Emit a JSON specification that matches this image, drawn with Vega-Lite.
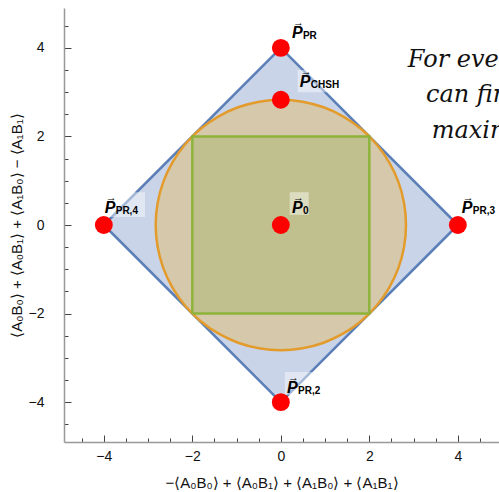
{
  "$schema": "https://vega.github.io/schema/vega-lite/v6.json",
  "width": 435,
  "height": 434,
  "autosize": "none",
  "padding": {"left": 64, "top": 8, "right": 0, "bottom": 50},
  "config": {"view": {"stroke": null}, "font": "Liberation Sans"},
  "datasets": {
    "diamond": [
      {"i": 0, "x": 0, "y": 4}, {"i": 1, "x": 4, "y": 0}, {"i": 2, "x": 0, "y": -4},
      {"i": 3, "x": -4, "y": 0}, {"i": 4, "x": 0, "y": 4}
    ],
    "circle": [
      {"i": 0, "x": 2.828, "y": 0}, {"i": 1, "x": 2.785, "y": 0.491}, {"i": 2, "x": 2.658, "y": 0.967},
      {"i": 3, "x": 2.449, "y": 1.414}, {"i": 4, "x": 2.167, "y": 1.818}, {"i": 5, "x": 1.818, "y": 2.167},
      {"i": 6, "x": 1.414, "y": 2.449}, {"i": 7, "x": 0.967, "y": 2.658}, {"i": 8, "x": 0.491, "y": 2.785},
      {"i": 9, "x": 0, "y": 2.828}, {"i": 10, "x": -0.491, "y": 2.785}, {"i": 11, "x": -0.967, "y": 2.658},
      {"i": 12, "x": -1.414, "y": 2.449}, {"i": 13, "x": -1.818, "y": 2.167}, {"i": 14, "x": -2.167, "y": 1.818},
      {"i": 15, "x": -2.449, "y": 1.414}, {"i": 16, "x": -2.658, "y": 0.967}, {"i": 17, "x": -2.785, "y": 0.491},
      {"i": 18, "x": -2.828, "y": 0}, {"i": 19, "x": -2.785, "y": -0.491}, {"i": 20, "x": -2.658, "y": -0.967},
      {"i": 21, "x": -2.449, "y": -1.414}, {"i": 22, "x": -2.167, "y": -1.818}, {"i": 23, "x": -1.818, "y": -2.167},
      {"i": 24, "x": -1.414, "y": -2.449}, {"i": 25, "x": -0.967, "y": -2.658}, {"i": 26, "x": -0.491, "y": -2.785},
      {"i": 27, "x": 0, "y": -2.828}, {"i": 28, "x": 0.491, "y": -2.785}, {"i": 29, "x": 0.967, "y": -2.658},
      {"i": 30, "x": 1.414, "y": -2.449}, {"i": 31, "x": 1.818, "y": -2.167}, {"i": 32, "x": 2.167, "y": -1.818},
      {"i": 33, "x": 2.449, "y": -1.414}, {"i": 34, "x": 2.658, "y": -0.967}, {"i": 35, "x": 2.785, "y": -0.491}
    ],
    "square": [
      {"i": 0, "x": -2, "y": -2}, {"i": 1, "x": 2, "y": -2}, {"i": 2, "x": 2, "y": 2},
      {"i": 3, "x": -2, "y": 2}, {"i": 4, "x": -2, "y": -2}
    ],
    "points": [
      {"name": "PR", "x": 0, "y": 4},
      {"name": "CHSH", "x": 0, "y": 2.828},
      {"name": "0", "x": 0, "y": 0},
      {"name": "PR,3", "x": 4, "y": 0},
      {"name": "PR,4", "x": -4, "y": 0},
      {"name": "PR,2", "x": 0, "y": -4}
    ],
    "boxes": [
      {"x": 0.38, "x2": 1.4, "y": 3.0, "y2": 3.5},
      {"x": 0.2, "x2": 0.63, "y": 0.23, "y2": 0.74},
      {"x": -4.02, "x2": -3.07, "y": 0.18, "y2": 0.74},
      {"x": 0.09, "x2": 0.99, "y": -3.84, "y2": -3.32}
    ],
    "labels": [
      {"sub": "PR", "x": 0.25, "y": 4.22},
      {"sub": "CHSH", "x": 0.43, "y": 3.12},
      {"sub": "0", "x": 0.25, "y": 0.27},
      {"sub": "PR,3", "x": 4.09, "y": 0.27},
      {"sub": "PR,4", "x": -3.98, "y": 0.27},
      {"sub": "PR,2", "x": 0.14, "y": -3.79}
    ],
    "note": [
      {"t": "For every point we", "x": 2.87, "y": 3.57},
      {"t": "can find a", "x": 3.28, "y": 2.78},
      {"t": "maximal", "x": 3.41, "y": 1.97}
    ]
  },
  "encoding": {
    "x": {
      "field": "x", "type": "quantitative",
      "scale": {"domain": [-4.9, 4.93], "nice": false, "zero": false},
      "axis": {
        "title": "−⟨A₀B₀⟩ + ⟨A₀B₁⟩ + ⟨A₁B₀⟩ + ⟨A₁B₁⟩",
        "values": [-4.5, -4, -3.5, -3, -2.5, -2, -1.5, -1, -0.5, 0, 0.5, 1, 1.5, 2, 2.5, 3, 3.5, 4, 4.5],
        "labelExpr": "datum.value % 2 === 0 ? format(datum.value, 'd') : ''",
        "tickSize": {"condition": {"test": "datum.value % 2 === 0", "value": -7}, "value": -4},
        "tickColor": "#444444", "tickWidth": 1,
        "domainColor": "#999999", "domainWidth": 1.5,
        "grid": false, "labelFontSize": 14, "labelColor": "#111111",
        "labelPadding": 14, "labelOverlap": false, "labelFlush": false,
        "titleFontSize": 15, "titleFontWeight": "normal", "titleColor": "#111111",
        "titlePadding": 9
      }
    },
    "y": {
      "field": "y", "type": "quantitative",
      "scale": {"domain": [-4.9, 4.9], "nice": false, "zero": false},
      "axis": {
        "title": "⟨A₀B₀⟩ + ⟨A₀B₁⟩ + ⟨A₁B₀⟩ − ⟨A₁B₁⟩",
        "values": [-4.5, -4, -3.5, -3, -2.5, -2, -1.5, -1, -0.5, 0, 0.5, 1, 1.5, 2, 2.5, 3, 3.5, 4, 4.5],
        "labelExpr": "datum.value % 2 === 0 ? format(datum.value, 'd') : ''",
        "tickSize": {"condition": {"test": "datum.value % 2 === 0", "value": -7}, "value": -4},
        "tickColor": "#444444", "tickWidth": 1,
        "domainColor": "#999999", "domainWidth": 1.5,
        "grid": false, "labelFontSize": 14, "labelColor": "#111111",
        "labelPadding": 27, "labelOverlap": false, "labelFlush": false,
        "titleFontSize": 15, "titleFontWeight": "normal", "titleColor": "#111111",
        "titlePadding": 4
      }
    }
  },
  "layer": [
    {
      "data": {"name": "diamond"},
      "mark": {"type": "line", "fill": "#c9d4e8", "stroke": "#5b7fb7", "strokeWidth": 2.5, "strokeJoin": "round"},
      "encoding": {"order": {"field": "i", "type": "quantitative"}}
    },
    {
      "data": {"name": "circle"},
      "mark": {"type": "line", "interpolate": "cardinal-closed", "fill": "#d6c9ab", "stroke": "#e39b2c", "strokeWidth": 2.5},
      "encoding": {"order": {"field": "i", "type": "quantitative"}}
    },
    {
      "data": {"name": "square"},
      "mark": {"type": "line", "fill": "#c0c08e", "stroke": "#8db33b", "strokeWidth": 2.5, "strokeJoin": "miter"},
      "encoding": {"order": {"field": "i", "type": "quantitative"}}
    },
    {
      "data": {"name": "boxes"},
      "mark": {"type": "rect", "fill": "#ffffff", "fillOpacity": 0.45},
      "encoding": {"x2": {"field": "x2"}, "y2": {"field": "y2"}}
    },
    {
      "data": {"name": "points"},
      "mark": {"type": "point", "shape": "circle", "filled": true, "size": 320, "color": "#ff0000", "opacity": 1}
    },
    {
      "data": {"name": "labels"},
      "mark": {"type": "text", "text": "→", "fontSize": 11, "align": "left", "baseline": "middle", "dx": 1, "dy": -15, "color": "#000000"}
    },
    {
      "data": {"name": "labels"},
      "mark": {"type": "text", "text": "P", "fontSize": 16, "fontStyle": "italic", "fontWeight": "bold", "align": "left", "baseline": "alphabetic", "color": "#000000"}
    },
    {
      "data": {"name": "labels"},
      "mark": {"type": "text", "fontSize": 10, "fontWeight": "bold", "align": "left", "baseline": "alphabetic", "dx": 11, "dy": 1, "color": "#000000"},
      "encoding": {"text": {"field": "sub"}}
    },
    {
      "data": {"name": "note"},
      "mark": {"type": "text", "font": "DejaVu Serif", "fontStyle": "italic", "fontSize": 24, "align": "left", "baseline": "alphabetic", "color": "#111111"},
      "encoding": {"text": {"field": "t"}}
    }
  ]
}
